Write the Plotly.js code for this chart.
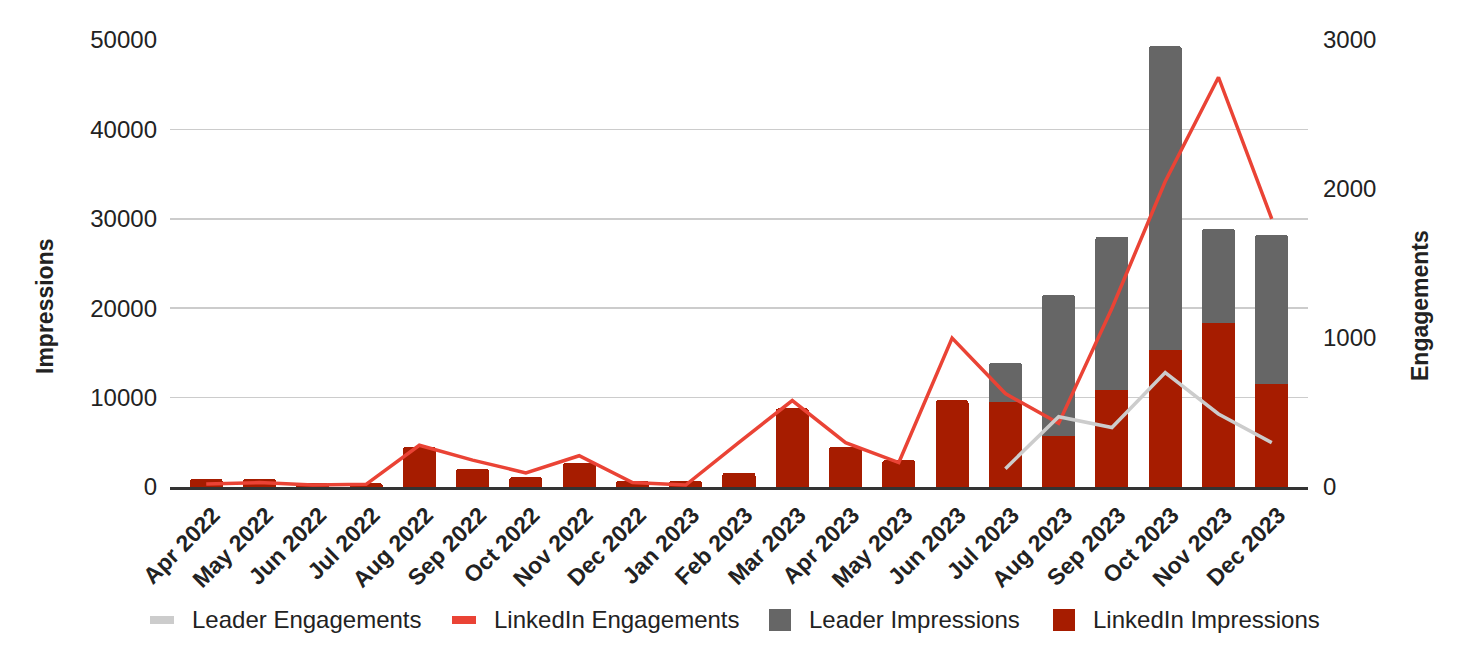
<!DOCTYPE html>
<html>
<head>
<meta charset="utf-8">
<script src="https://cdn.plot.ly/plotly-3.0.1.min.js"></script>
<style>
  html, body { margin: 0; padding: 0; background: #fff; }
  #chart { width: 1464px; height: 669px; }
</style>
</head>
<body>
<div id="chart"></div>
<script>
var months = ["Apr 2022", "May 2022", "Jun 2022", "Jul 2022", "Aug 2022", "Sep 2022", "Oct 2022",
  "Nov 2022", "Dec 2022", "Jan 2023", "Feb 2023", "Mar 2023", "Apr 2023", "May 2023",
  "Jun 2023", "Jul 2023", "Aug 2023", "Sep 2023", "Oct 2023", "Nov 2023", "Dec 2023"];

var linkedinImpressions = [900, 900, 400, 450, 4500, 2000, 1100, 2700, 700, 700, 1600, 8800,
  4500, 3000, 9700, 9500, 5700, 10800, 15300, 18400, 11500];
var leaderImpressions = [0, 0, 0, 0, 0, 0, 0, 0, 0, 0, 0, 0, 0, 0, 0,
  4400, 15800, 17200, 34000, 10500, 16700];

var linkedinEngagements = [20, 30, 13, 18, 280, 180, 95, 210, 30, 13, 300, 580,
  298, 164, 1000, 627, 427, 1200, 2050, 2750, 1800];
var leaderEngagements = [null, null, null, null, null, null, null, null, null, null, null, null,
  null, null, null, 123, 472, 399, 768, 490, 298];

// legend (drawn by hand so the swatches look like the original)
var legendNames = ["Leader Engagements", "LinkedIn Engagements", "Leader Impressions", "LinkedIn Impressions"];
var legendColors = ["#cccccc", "#ea4335", "#666666", "#a61c00"];
var legendKinds = ["line", "line", "box", "box"];
var legendLeft = [150, 452, 769, 1053];

var font = "Liberation Sans, Arial, sans-serif";
var ink = "#222222";

var W = 1464, H = 669;
var M = { l: 170, r: 156, t: 40, b: 182 };
var plotW = W - M.l - M.r, plotH = H - M.t - M.b;
function px(x) { return (x - M.l) / plotW; }
function py(y) { return (H - M.b - y) / plotH; }

var data = [
  {
    type: "bar", name: "LinkedIn Impressions", x: months, y: linkedinImpressions,
    marker: { color: "#a61c00" }
  },
  {
    type: "bar", name: "Leader Impressions", x: months, y: leaderImpressions,
    marker: { color: "#666666" }
  },
  {
    type: "scatter", mode: "lines", name: "LinkedIn Engagements", x: months, y: linkedinEngagements,
    yaxis: "y2", line: { color: "#ea4335", width: 3.5 }
  },
  {
    type: "scatter", mode: "lines", name: "Leader Engagements", x: months, y: leaderEngagements,
    yaxis: "y2", line: { color: "#cccccc", width: 3.5 }
  }
];

var shapes = [];
var annotations = [
  {
    text: "Impressions", textangle: -90, showarrow: false,
    xref: "paper", yref: "paper", x: px(45), y: py(306), xanchor: "center", yanchor: "middle",
    font: { size: 23, weight: "bold", color: ink }
  },
  {
    text: "Engagements", textangle: -90, showarrow: false,
    xref: "paper", yref: "paper", x: px(1420), y: py(306), xanchor: "center", yanchor: "middle",
    font: { size: 23, weight: "bold", color: ink }
  }
];

legendNames.forEach(function (name, i) {
  var x0 = legendLeft[i];
  var half = legendKinds[i] === "line" ? 4 : 11;
  var w = legendKinds[i] === "line" ? 24 : 22;
  shapes.push({
    type: "rect", xref: "paper", yref: "paper", layer: "above",
    x0: px(x0), x1: px(x0 + w), y0: py(620 + half), y1: py(620 - half),
    fillcolor: legendColors[i], line: { width: 0 }
  });
  annotations.push({
    text: name, showarrow: false, xref: "paper", yref: "paper",
    x: px(x0 + w + 16), y: py(619), xanchor: "left", yanchor: "middle",
    font: { size: 24, color: ink }
  });
});

var layout = {
  width: W, height: H,
  margin: M,
  paper_bgcolor: "#ffffff", plot_bgcolor: "#ffffff",
  font: { family: font, size: 24, color: ink },
  barmode: "stack",
  bargap: 0.38,
  barcornerradius: 3,
  showlegend: false,
  xaxis: {
    type: "category", range: [-0.68, 20.68], tickangle: -45,
    tickfont: { size: 23, weight: "bold", color: ink },
    ticklabelshift: 7, ticklabelstandoff: 3,
    showgrid: false, showline: true, linecolor: "#333333", linewidth: 2.5,
    ticks: ""
  },
  yaxis: {
    range: [0, 50000], dtick: 10000, tickformat: "d",
    gridcolor: "#cccccc", gridwidth: 1.5, zeroline: false,
    tickfont: { size: 24, color: ink }, ticklabelstandoff: 12
  },
  yaxis2: {
    overlaying: "y", side: "right", range: [0, 3000], dtick: 1000, tickformat: "d",
    showgrid: false, zeroline: false,
    tickfont: { size: 24, color: ink }, ticklabelstandoff: 14
  },
  shapes: shapes,
  annotations: annotations
};

var config = { displayModeBar: false, responsive: false, staticPlot: true };

Plotly.newPlot("chart", data, layout, config);
</script>
</body>
</html>
